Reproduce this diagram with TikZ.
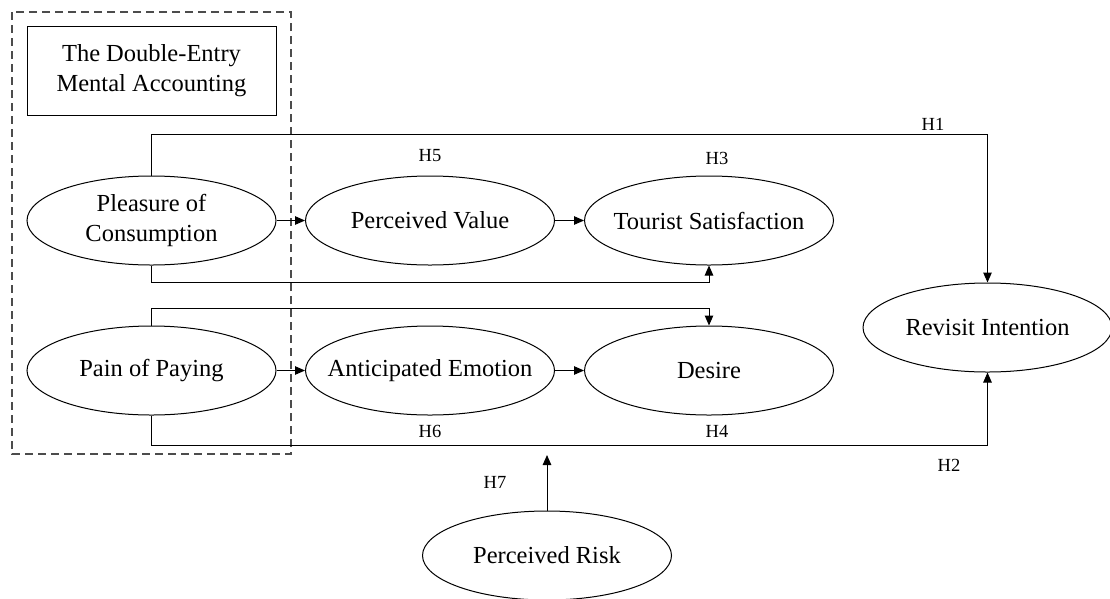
\documentclass[tikz,border=0pt]{standalone}
\usepackage{fontspec}
\setmainfont{Liberation Serif}
\usetikzlibrary{shapes.geometric,arrows.meta}
\begin{document}
\begin{tikzpicture}[x=1pt,y=-1pt,
  ell/.style={draw,ellipse,line width=1pt,minimum width=249pt,minimum height=89pt,inner sep=0pt,align=center,font=\fontsize{24.5}{30}\selectfont},
  lbl/.style={inner sep=0pt,font=\fontsize{18.5}{21}\selectfont},
  arr/.style={line width=1pt,-{Triangle[length=10pt,width=8.5pt]}},
  conn/.style={line width=1pt}]
\useasboundingbox (0,0) rectangle (1110,598);
\draw[dashed,dash pattern=on 8pt off 5pt,line width=1.1pt,draw=black!70] (12,12) rectangle (291,454);
\node[draw,line width=1pt,minimum width=249pt,minimum height=89pt,inner sep=0pt,align=center,font=\fontsize{24.5}{30}\selectfont] (tb) at (151.5,70.5) {The Double-Entry\\Mental Accounting};
\node[ell] (pc) at (151.5,220.5) {\makebox[0pt]{Pleasure of}\\\makebox[0pt]{Consumption}};
\node[ell] (pp) at (151.5,370.5) {\makebox[0pt]{Pain of Paying}};
\node[ell] (pv) at (430,220.5) {\makebox[0pt]{Perceived Value}};
\node[ell] (ts) at (709,220.5) {\makebox[0pt]{Tourist Satisfaction}};
\node[ell] (ae) at (430,370.5) {\makebox[0pt]{Anticipated Emotion}};
\node[ell] (de) at (709,370.5) {\makebox[0pt]{Desire}};
\node[ell] (ri) at (987.5,327.5) {\makebox[0pt]{Revisit Intention}};
\node[ell] (pr) at (547,555.5) {\makebox[0pt]{Perceived Risk}};
\coordinate (yA) at (0,134);
\coordinate (yB) at (0,282.7);
\coordinate (yC) at (0,308);
\coordinate (yD) at (0,445.7);
\coordinate (h7tip) at (547,455);
\draw[arr] (pc.north) -- (pc.north |- yA) -| (ri.north);
\draw[arr] (pc.south) -- (pc.south |- yB) -| (ts.south);
\draw[arr] (pp.north) -- (pp.north |- yC) -| (de.north);
\draw[arr] (pp.south) -- (pp.south |- yD) -| (ri.south);
\draw[arr] (pc.east) -- (pv.west);
\draw[arr] (pv.east) -- (ts.west);
\draw[arr] (pp.east) -- (ae.west);
\draw[arr] (ae.east) -- (de.west);
\draw[arr] (pr.north) -- (h7tip);
\node[lbl] (h1) at (933,124) {H1};
\node[lbl] (h2) at (949,465) {H2};
\node[lbl] (h3) at (717,158) {H3};
\node[lbl] (h4) at (717,431) {H4};
\node[lbl] (h5) at (430,156) {H5};
\node[lbl] (h6) at (430,431) {H6};
\node[lbl] (h7) at (495,482) {H7};
\end{tikzpicture}
\end{document}
